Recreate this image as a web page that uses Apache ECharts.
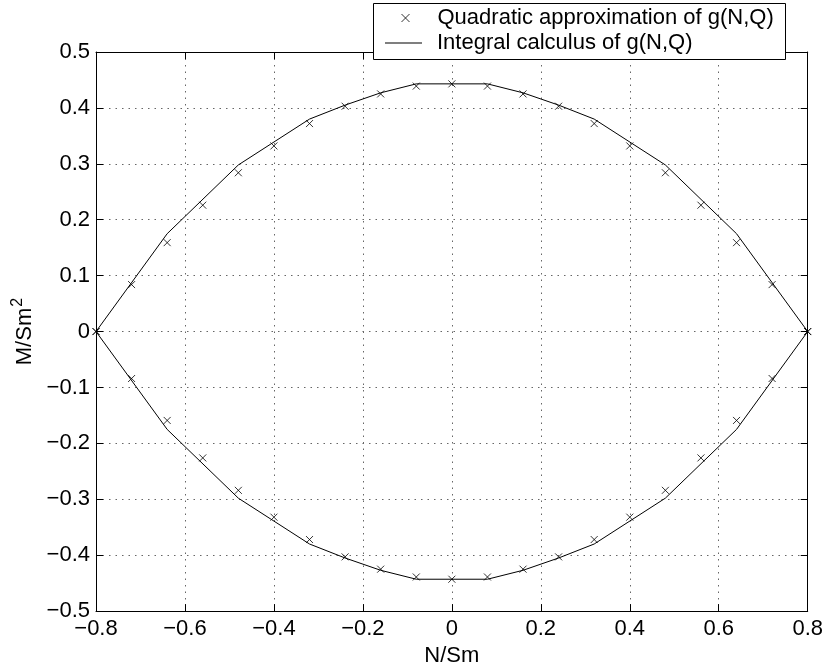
<!DOCTYPE html>
<html>
<head>
<meta charset="utf-8">
<script src="https://cdn.jsdelivr.net/npm/echarts@6/dist/echarts.min.js"></script>
<style>
html,body{margin:0;padding:0;background:#fff;}
#chart{width:826px;height:672px;}
</style>
</head>
<body>
<div id="chart"></div>
<script>
// ---- data ----
var quadX = [-0.8, -0.72, -0.64, -0.56, -0.48, -0.4, -0.32, -0.24, -0.16, -0.08, 0, 0.08, 0.16, 0.24, 0.32, 0.4, 0.48, 0.56, 0.64, 0.72, 0.8];
var quadUpper = [0, 0.084, 0.159, 0.226, 0.284, 0.332, 0.372, 0.403, 0.425, 0.439, 0.443, 0.439, 0.425, 0.403, 0.372, 0.332, 0.284, 0.226, 0.159, 0.084, 0];
var quadLower = [0, -0.084, -0.159, -0.226, -0.284, -0.332, -0.372, -0.403, -0.425, -0.439, -0.443, -0.439, -0.425, -0.403, -0.372, -0.332, -0.284, -0.226, -0.159, -0.084, 0];
var integX = [-0.8, -0.64, -0.48, -0.32, -0.24, -0.16, -0.08, 0.08, 0.16, 0.24, 0.32, 0.48, 0.64, 0.8];
var integUpper = [0, 0.175, 0.298, 0.38, 0.405, 0.427, 0.443, 0.443, 0.427, 0.405, 0.38, 0.298, 0.175, 0];
var integLower = [0, -0.175, -0.298, -0.38, -0.405, -0.427, -0.443, -0.443, -0.427, -0.405, -0.38, -0.298, -0.175, 0];
var xTickValues = [-0.8, -0.6, -0.4, -0.2, 0, 0.2, 0.4, 0.6, 0.8];
var xTickLabels = ['\u22120.8', '\u22120.6', '\u22120.4', '\u22120.2', '0', '0.2', '0.4', '0.6', '0.8'];
var yTickValues = [-0.5, -0.4, -0.3, -0.2, -0.1, 0, 0.1, 0.2, 0.3, 0.4, 0.5];
var yTickLabels = ['\u22120.5', '\u22120.4', '\u22120.3', '\u22120.2', '\u22120.1', '0', '0.1', '0.2', '0.3', '0.4', '0.5'];
var seriesNames = ['Quadratic approximation of g(N,Q)', 'Integral calculus of g(N,Q)'];
var xName = 'N/Sm';

// ---- build ----
var quadData = [];
for (var i = 0; i < quadX.length; i++) quadData.push([quadX[i], quadUpper[i]]);
for (var j = 0; j < quadX.length; j++) quadData.push([quadX[j], quadLower[j]]);
var integData = [];
for (var k = 0; k < integX.length; k++) integData.push([integX[k], integUpper[k]]);
for (var m = integX.length - 1; m >= 0; m--) integData.push([integX[m], integLower[m]]);

function lookup(vals, labels) {
  return function (v) {
    for (var i = 0; i < vals.length; i++) if (Math.abs(vals[i] - v) < 1e-6) return labels[i];
    return '';
  };
}
var FONT = "'Liberation Sans', Arial, Helvetica, sans-serif";
var FS = 22;
var crossPath = 'path://M0,0L10,10M10,0L0,10';
var gridLine = {show: true, lineStyle: {color: '#666', type: [1.5, 5], width: 1}};
var tick = {show: true, inside: true, length: 7, lineStyle: {color: '#000', width: 1}};
var axLine = {show: true, onZero: false, lineStyle: {color: '#000', width: 1}};

var chart = echarts.init(document.getElementById('chart'), null, {renderer: 'canvas'});
chart.setOption({
  animation: false,
  backgroundColor: '#fff',
  textStyle: {fontFamily: FONT},
  grid: {left: 96, right: 16, top: 52, bottom: 56, containLabel: false},
  xAxis: [{
    type: 'value', min: -0.8, max: 0.8, interval: 0.2, position: 'bottom',
    axisLine: axLine, axisTick: tick, splitLine: gridLine,
    axisLabel: {color: '#000', fontSize: FS, fontFamily: FONT, margin: 7, formatter: lookup(xTickValues, xTickLabels)},
    name: xName, nameLocation: 'middle', nameGap: 29,
    nameTextStyle: {color: '#000', fontSize: FS, fontFamily: FONT}
  }, {
    type: 'value', min: -0.8, max: 0.8, interval: 0.2, position: 'top',
    axisLine: axLine, axisTick: tick, splitLine: {show: false}, axisLabel: {show: false}
  }],
  yAxis: [{
    type: 'value', min: -0.5, max: 0.5, interval: 0.1, position: 'left',
    axisLine: axLine, axisTick: tick, splitLine: gridLine,
    axisLabel: {color: '#000', fontSize: FS, fontFamily: FONT, margin: 6, formatter: lookup(yTickValues, yTickLabels)},
    name: '{a|M/Sm}{b|2}', nameLocation: 'middle', nameGap: 56,
    nameTextStyle: {
      color: '#000', fontSize: FS, fontFamily: FONT,
      rich: {
        a: {fontSize: FS, fontFamily: FONT, color: '#000', verticalAlign: 'bottom', lineHeight: 26},
        b: {fontSize: 16, fontFamily: FONT, color: '#000', verticalAlign: 'top', lineHeight: 26, padding: [0, 0, 10, 1]}
      }
    }
  }, {
    type: 'value', min: -0.5, max: 0.5, interval: 0.1, position: 'right',
    axisLine: axLine, axisTick: tick, splitLine: {show: false}, axisLabel: {show: false}
  }],
  graphic: [{
    type: 'rect', z: 50, left: 373, top: 3,
    shape: {width: 412, height: 56},
    style: {fill: '#fff', stroke: '#000', lineWidth: 1}
  }],
  legend: [{
    z: 60, left: 401, top: 7, orient: 'vertical',
    itemWidth: 8, itemHeight: 8, padding: 0,
    data: [{name: seriesNames[0], icon: crossPath,
      itemStyle: {color: 'transparent', borderColor: '#000', borderWidth: 1}}],
    textStyle: {color: '#000', fontSize: FS, fontFamily: FONT, padding: [0, 0, 0, 23]}
  }, {
    z: 60, left: 385, top: 32, orient: 'vertical',
    itemWidth: 37, itemHeight: 2, padding: 0,
    data: [{name: seriesNames[1], icon: 'path://M0,0L37,0L37,1L0,1Z',
      itemStyle: {color: '#000', borderWidth: 0}}],
    textStyle: {color: '#000', fontSize: FS, fontFamily: FONT, padding: [0, 0, 0, 10]}
  }],
  series: [{
    name: seriesNames[0], type: 'scatter', xAxisIndex: 0, yAxisIndex: 0,
    symbol: crossPath, symbolSize: 7,
    itemStyle: {color: 'transparent', borderColor: '#000', borderWidth: 1},
    data: quadData, z: 3
  }, {
    name: seriesNames[1], type: 'line', xAxisIndex: 0, yAxisIndex: 0,
    symbol: 'none', showSymbol: false,
    lineStyle: {color: '#000', width: 1},
    itemStyle: {color: '#000'},
    data: integData, z: 2
  }]
});
</script>
</body>
</html>
